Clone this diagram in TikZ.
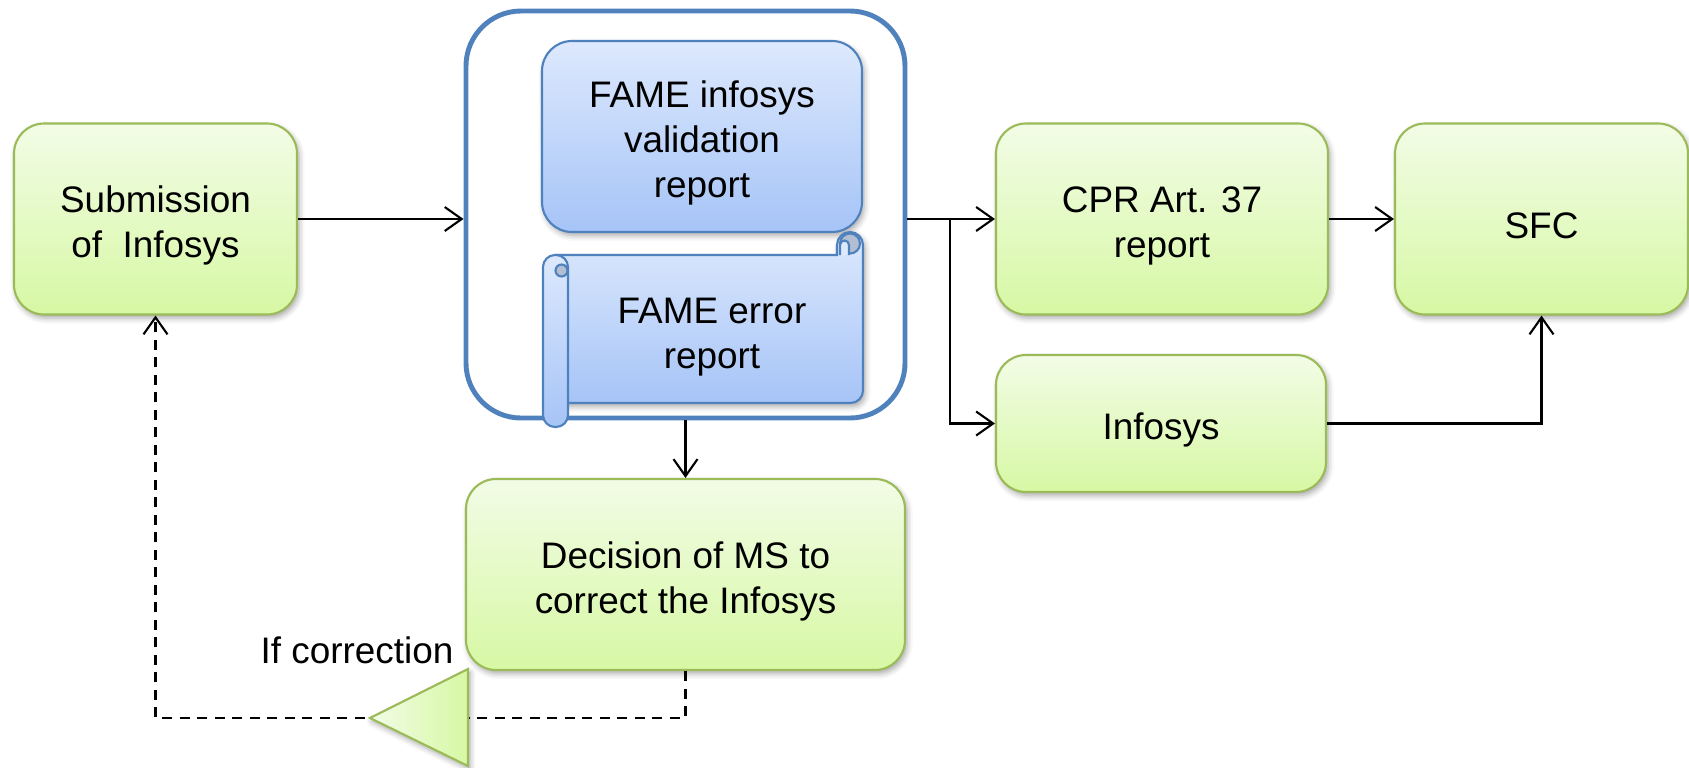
\documentclass[tikz,border=0pt]{standalone}
\usepackage{fontspec}
\setmainfont{Liberation Sans}
\usepackage{tikz}
\usetikzlibrary{arrows.meta,shadows.blur,calc}
\definecolor{grline}{HTML}{9BBB59}
\definecolor{grtop}{HTML}{F2FCE6}
\definecolor{grbot}{HTML}{D7F8A4}
\definecolor{blline}{HTML}{4F81BD}
\definecolor{bltop}{HTML}{DDE9FD}
\definecolor{blbot}{HTML}{A6C4F7}
\definecolor{blcurl}{HTML}{B2BED2}
\newcommand{\lowtxt}{\rule{0pt}{11.3pt}}

\begin{document}
\begin{tikzpicture}[font=\fontsize{10.5}{12.8}\selectfont]
          \useasboundingbox (0,0) rectangle (16.89,7.67);

          \tikzstyle{every node}=[align=center]
          \tikzstyle{shad}=[blur shadow={shadow xshift=0.6pt,shadow yshift=-1pt,shadow blur radius=1.6pt,shadow opacity=35}]
          \tikzstyle{gbox}=[draw=grline,line width=0.6pt,rounded corners=0.3cm,top color=grtop,bottom color=grbot,minimum height=1.91cm,shad]
          \tikzstyle{bbox}=[draw=blline,line width=0.6pt,rounded corners=0.3cm,top color=bltop,bottom color=blbot,minimum height=1.91cm,shad]
          \tikzstyle{arr}=[line width=0.6pt,-{Straight Barb[length=1.7mm,width=2.4mm]}]
          \tikzstyle{back}=[arr,dash pattern=on 1mm off 0.75mm]

          % FAME block
          \node[draw=blline,line width=1.4pt,rounded corners=0.55cm,minimum width=4.39cm,minimum height=4.07cm] (cont) at (6.855,5.525) {};
          \node[bbox,minimum width=3.2cm] (val) at (7.02,6.305) {\lowtxt FAME infosys\\validation\\report};

          % scroll
          \filldraw[draw=blline,line width=0.6pt,top color=bltop,bottom color=blbot,shad]
          (5.555,3.64) -- (8.505,3.64) arc[start angle=-90,end angle=0,radius=0.125]
          -- (8.63,5.22) arc[start angle=0,end angle=180,radius=0.13] -- (8.37,5.12) -- (5.555,5.12) -- cycle;
          \filldraw[draw=blline,line width=0.6pt,fill=blcurl] (8.50,5.235) circle (0.1);
          \filldraw[draw=blline,line width=0.6pt,fill=bltop]
          (8.40,5.12) -- (8.40,5.22) arc[start angle=180,end angle=0,radius=0.045] -- (8.49,5.12);
          \filldraw[draw=blline,line width=0.6pt,rounded corners=0.12cm,top color=bltop,bottom color=blbot]
          (5.43,3.40) rectangle (5.68,5.12);
          \filldraw[draw=blline,line width=0.6pt,fill=blcurl] (5.615,4.965) circle (0.06);
          \node (err) at (7.12,4.37) {\lowtxt FAME error\\report};

          % green boxes
          \node[gbox,minimum width=2.83cm] (sub) at (1.555,5.48) {\lowtxt Submission\\of\ \ Infosys};
          \node[gbox,minimum width=3.32cm] (cpr) at (11.62,5.48) {\lowtxt CPR Art. 37\\report};
          \node[gbox,minimum width=2.93cm] (sfc) at (15.415,5.48) {\lowtxt SFC};
          \node[gbox,minimum width=3.30cm,minimum height=1.37cm] (info) at (11.61,3.435) {\lowtxt Infosys};
          \node[gbox,minimum width=4.39cm] (dec) at (6.855,1.925) {\lowtxt Decision of MS to\\correct the Infosys};
          \node (ifc) at (3.57,1.17) {If correction};

          \coordinate (br) at (9.50,5.48);
          \coordinate (low) at (0,0.49);

          \draw[arr] (sub.east) -- (sub.east -| cont.west);
          \draw[line width=0.6pt] (cont.east |- cpr.west) -- (br);
          \draw[arr] (br) -- (cpr.west);
          \draw[arr] (br) |- (info.west);
          \draw[arr] (cpr.east) -- (sfc.west);
          \draw[arr] (info.east) -| (sfc.south);
          \draw[arr] (cont.south) -- (dec.north);

          % retour
          \draw[back] (dec.south) |- (sub.south |- low) -- (sub.south);
          \filldraw[draw=grline,line width=0.6pt,left color=grtop,right color=grbot,shad]
          (3.70,0.49) -- (4.68,0.98) -- (4.68,0.01) -- cycle;
        \end{tikzpicture}
\end{document}
